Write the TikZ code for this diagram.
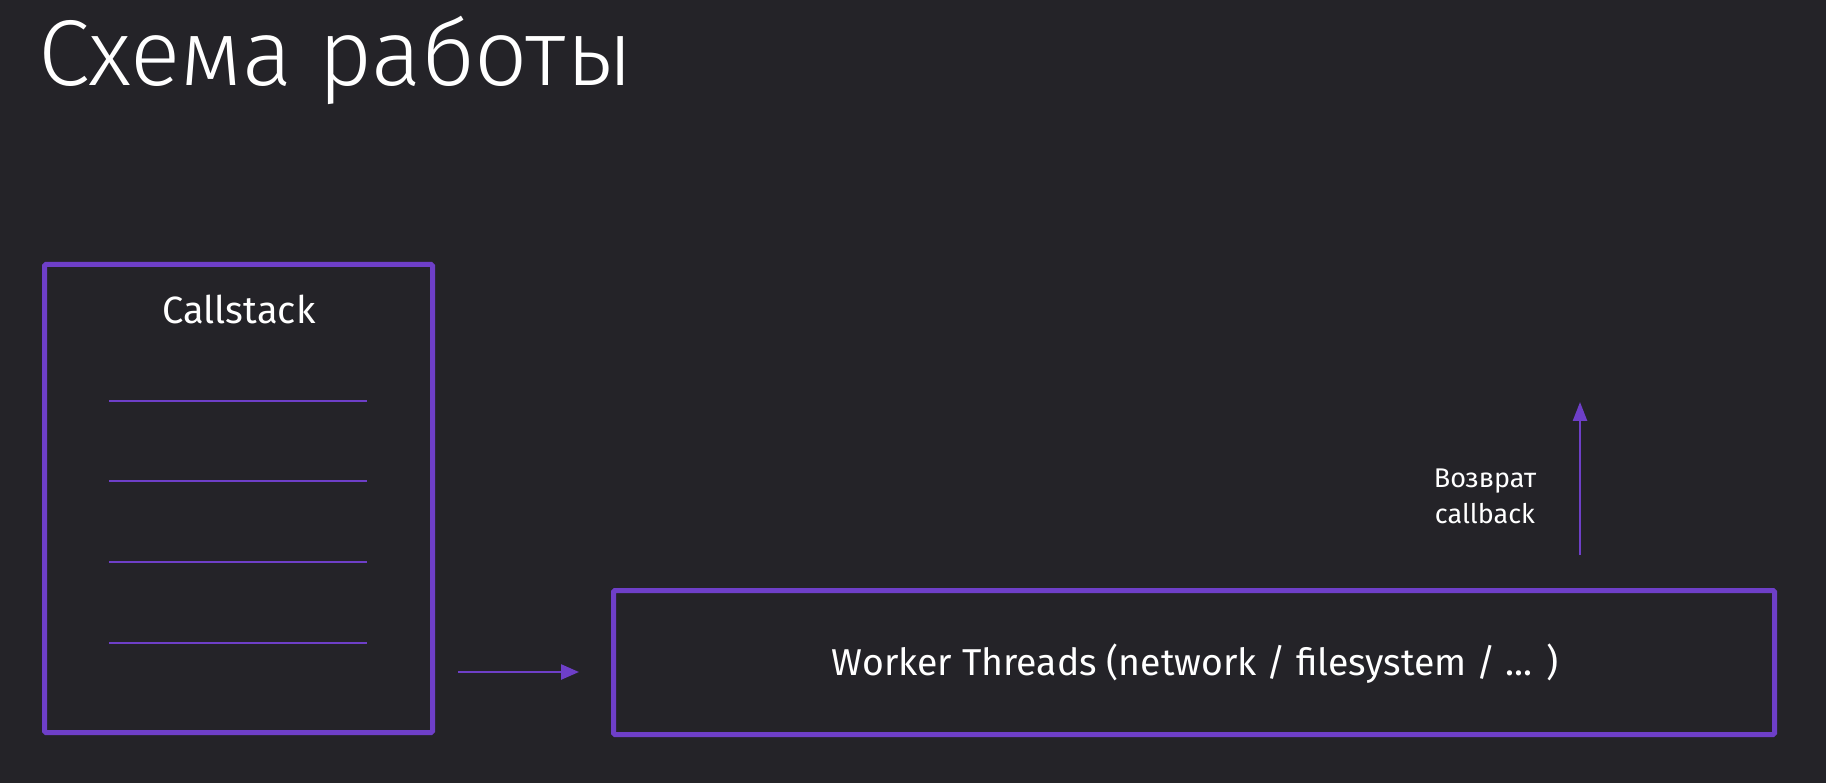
\documentclass[tikz,border=0pt]{standalone}
\usepackage{fontspec}
\setmainfont{Fira Sans}
\newfontfamily\titlefont{Fira Sans Light}
\usetikzlibrary{arrows.meta}
\definecolor{bg}{HTML}{242328}
\definecolor{vio}{HTML}{6E3FC8}
\begin{document}
\begin{tikzpicture}[x=1pt,y=-1pt,
  box/.style={draw=vio,line width=5pt,rounded corners=1.5pt,inner sep=0pt},
  sepline/.style={draw=vio,line width=2pt},
  arr/.style={draw=vio,line width=2.5pt,-{Triangle[length=18pt,width=15pt]}},
  txt/.style={text=white,inner sep=0pt}]
\fill[bg] (0,0) rectangle (1826,783);
\useasboundingbox (0,0) rectangle (1826,783);
\node[txt,anchor=base west,font=\titlefont\fontsize{93.5}{100}\selectfont] (title) at (38,86) {Схема работы};
\node[box,minimum width=388pt,minimum height=468pt] (cs) at (238.5,498.5) {};
\node[txt,anchor=base,font=\fontsize{38}{44}\selectfont] (cst) at (239,324) {Callstack};
\draw[sepline] (109,401) -- (367,401);
\draw[sepline] (109,481) -- (367,481);
\draw[sepline] (109,562) -- (367,562);
\draw[sepline] (109,643) -- (367,643);
\node[box,minimum width=1161pt,minimum height=144pt] (wt) at (1194,662.5) {};
\node[txt,anchor=base,font=\fontsize{37.4}{44}\selectfont] (wtt) at (1195,675) {Worker Threads (network / filesystem / ... )};
\coordinate (a1) at (458,672);
\coordinate (a2) at (579,672);
\draw[arr] (a1) -- (a2);
\coordinate (r1) at (1580,555);
\coordinate (r2) at (1580,402);
\draw[arr,-{Triangle[length=19pt,width=14pt]}] (r1) -- (r2);
\node[txt,align=center,font=\fontsize{27}{36}\selectfont] (ret) at (1485,496) {Возврат\\callback};
\end{tikzpicture}
\end{document}
